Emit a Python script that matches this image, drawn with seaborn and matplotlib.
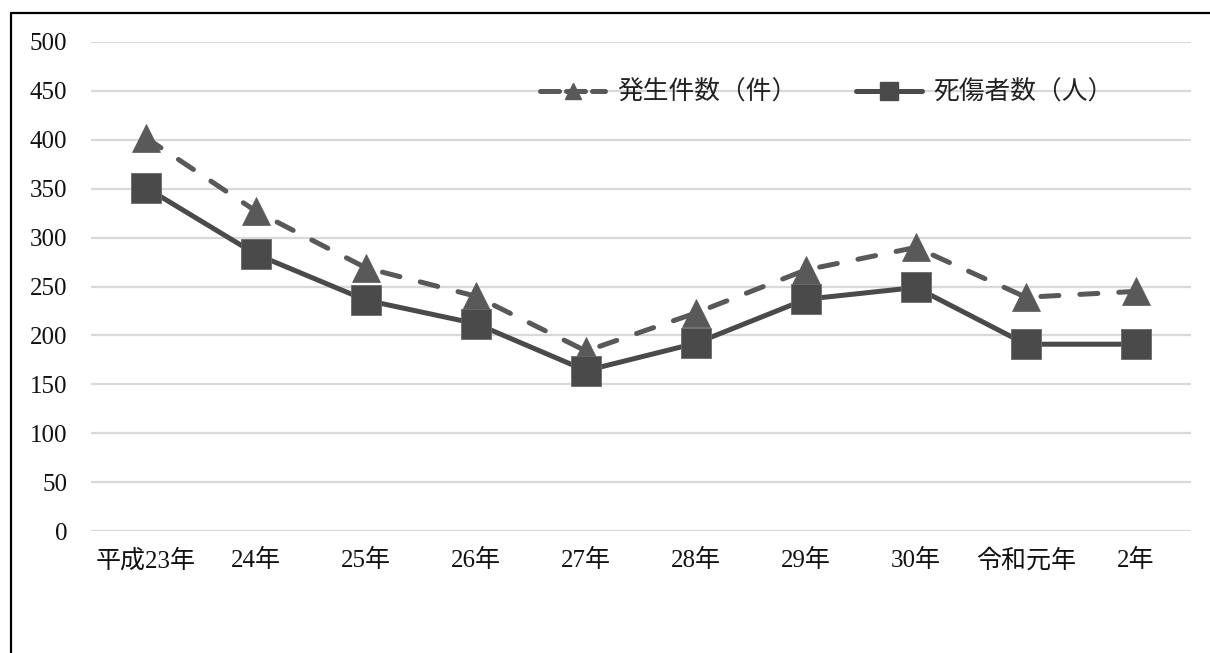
import matplotlib
matplotlib.use("Agg")
import matplotlib.pyplot as plt
from matplotlib.lines import Line2D
import pandas as pd
import seaborn as sns

# Yearly figures
years = ["平成23年", "24年", "25年", "26年", "27年", "28年", "29年", "30年", "令和元年", "2年"]
incidents = [402, 327, 269, 240, 184, 223, 267, 290, 239, 245]      # 発生件数（件）
casualties = [351, 283, 236, 212, 164, 192, 237, 249, 191, 191]     # 死傷者数（人）
y_ticks = [0, 50, 100, 150, 200, 250, 300, 350, 400, 450, 500]

sns.set_theme(style="white")
plt.rcParams["font.family"] = ["Noto Sans CJK JP", "DejaVu Sans"]

df_inc = pd.DataFrame({"year": years, "value": incidents})
df_cas = pd.DataFrame({"year": years, "value": casualties})

fig = plt.figure(figsize=(12.1, 6.53), dpi=100)
ax = fig.add_axes([0.0752, 0.1868, 0.9091, 0.7489])

c_inc = "#595959"
c_cas = "#4a4a4a"

sns.lineplot(data=df_inc, x="year", y="value", ax=ax, sort=False,
             color=c_inc, lw=3.6, marker="^", markersize=20,
             markeredgecolor=c_inc, markeredgewidth=0.5,
             dashes=False, zorder=3)
ax.lines[-1].set_dashes((3.6, 4.2))
ax.lines[-1].set_dash_capstyle("round")

sns.lineplot(data=df_cas, x="year", y="value", ax=ax, sort=False,
             color=c_cas, lw=3.6, marker="s", markersize=21,
             markeredgecolor="#6a6a6a", markeredgewidth=0.6,
             zorder=4)

ax.set_xlim(-0.5, len(years) - 0.5)
ax.set_ylim(0, 500)
ax.set_yticks(y_ticks)
ax.set_xlabel("")
ax.set_ylabel("")

ax.grid(axis="y", color="#d9d9d9", lw=1.6)
ax.grid(axis="x", visible=False)
ax.set_axisbelow(True)
for s in ax.spines.values():
    s.set_visible(False)
ax.tick_params(axis="both", length=0)
ax.tick_params(axis="y", pad=17)
ax.tick_params(axis="x", pad=13)

tick_fam = ["Liberation Serif", "Noto Sans CJK JP"]
for lab in ax.get_yticklabels() + ax.get_xticklabels():
    lab.set_family(tick_fam)
    lab.set_fontsize(18)
    lab.set_color("#111111")

h_inc = Line2D([], [], color=c_inc, lw=3.6, marker="^", markersize=20,
               markeredgecolor=c_inc, dash_capstyle="round")
h_inc.set_dashes((3.8, 1.4))
h_cas = Line2D([], [], color=c_cas, lw=3.6, marker="s", markersize=21,
               markeredgecolor=c_cas)
leg = ax.legend([h_inc, h_cas], ["発生件数（件）", "死傷者数（人）"],
                loc="center left", bbox_to_anchor=(0.408, 0.896), ncol=2,
                frameon=False, fontsize=18.5, markerscale=0.6,
                handlelength=2.55, handletextpad=0.45, columnspacing=2.3,
                borderpad=0, borderaxespad=0)
for t in leg.get_texts():
    t.set_color("#222222")

# frame around the chart
fig.add_artist(Line2D([10.5 / 1210, 1.0], [1 - 12.5 / 653, 1 - 12.5 / 653],
                      transform=fig.transFigure, color="black", lw=1.6))
fig.add_artist(Line2D([10.5 / 1210, 10.5 / 1210], [0.0, 1 - 12.5 / 653],
                      transform=fig.transFigure, color="black", lw=1.6))

fig.savefig("out.png", dpi=100, facecolor="white")
